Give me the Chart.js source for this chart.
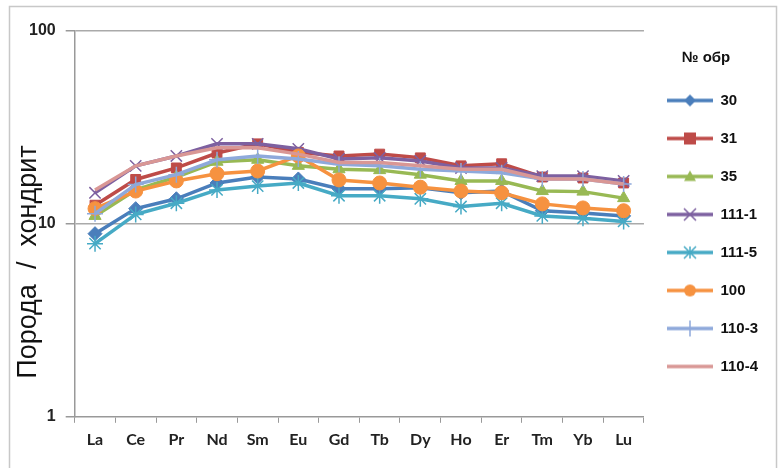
<!DOCTYPE html>
<html>
<head>
<meta charset="utf-8">
<script src="https://cdn.jsdelivr.net/npm/chart.js@4.4.1/dist/chart.umd.min.js"></script>
<style>
  html, body { margin: 0; padding: 0; background: #fff; }
  #wrap { width: 782px; height: 468px; position: relative; }
</style>
</head>
<body>
<div id="wrap"><canvas id="reeChart" width="782" height="468"></canvas></div>
<script>
// --- данные: нормированные на хондрит содержания РЗЭ ---
const elements = ['La', 'Ce', 'Pr', 'Nd', 'Sm', 'Eu', 'Gd', 'Tb', 'Dy', 'Ho', 'Er', 'Tm', 'Yb', 'Lu'];
const sampleNames = ['30', '31', '35', '111-1', '111-5', '100', '110-3', '110-4'];
const s30   = [8.9, 12.0, 13.5, 16.3, 17.5, 17.1, 15.2, 15.2, 15.4, 14.5, 14.8, 11.7, 11.4, 11.0];
const s31   = [12.5, 17.0, 19.5, 23.3, 26.0, 23.5, 22.5, 23.0, 22.0, 20.0, 20.5, 17.5, 17.3, 16.3];
const s35   = [11.0, 15.0, 17.5, 21.0, 21.5, 20.0, 19.2, 19.0, 18.0, 16.7, 16.7, 14.8, 14.7, 13.6];
const s1111 = [14.5, 20.0, 22.5, 26.0, 26.0, 24.5, 21.7, 22.0, 21.2, 19.5, 19.5, 17.7, 17.7, 16.7];
const s1115 = [7.9, 11.2, 12.8, 15.0, 15.7, 16.3, 14.0, 14.0, 13.5, 12.3, 12.8, 11.0, 10.7, 10.3];
const s100  = [12.0, 14.8, 16.7, 18.2, 18.8, 22.5, 16.9, 16.3, 15.5, 14.8, 14.5, 12.7, 12.1, 11.7];
const s1103 = [11.3, 16.0, 18.0, 21.5, 22.5, 21.7, 20.4, 20.0, 19.2, 18.8, 18.4, 17.1, 17.1, 16.1];
const s1104 = [15.0, 20.0, 22.5, 24.8, 24.8, 23.0, 20.8, 20.8, 20.0, 19.2, 19.2, 17.1, 17.1, 16.1];
const yTicks = [1, 10, 100];

const seriesValues = [s30, s31, s35, s1111, s1115, s100, s1103, s1104];
const colors = ['#4A7EBB', '#BE4B48', '#98B954', '#7D60A0', '#46AAC5', '#F69240', '#8EA9DB', '#D99795'];
const markers = ['rectRot', 'rect', 'triangle', 'crossRot', 'star', 'circle', 'cross', false];
const radii = [7, 7, 7, 8, 8, 7, 8, 0];

// картинка для легенды: линия + маркер (как в Excel)
function legendImage(color, style) {
    const c = document.createElement('canvas');
    c.width = 46; c.height = 20;
    const ctx = c.getContext('2d');
    const cx = 23, cy = 10, r = 6;
    ctx.strokeStyle = color; ctx.fillStyle = color; ctx.lineWidth = 3.5;
    ctx.beginPath(); ctx.moveTo(0, cy); ctx.lineTo(46, cy); ctx.stroke();
    ctx.lineWidth = 1.5;
    ctx.beginPath();
    if (style === 'rectRot') {
        ctx.moveTo(cx, cy - r); ctx.lineTo(cx + r, cy); ctx.lineTo(cx, cy + r); ctx.lineTo(cx - r, cy); ctx.closePath(); ctx.fill();
    } else if (style === 'rect') {
        ctx.fillRect(cx - r, cy - r, 2 * r, 2 * r);
    } else if (style === 'triangle') {
        ctx.moveTo(cx, cy - r); ctx.lineTo(cx + r, cy + r * 0.75); ctx.lineTo(cx - r, cy + r * 0.75); ctx.closePath(); ctx.fill();
    } else if (style === 'circle') {
        ctx.arc(cx, cy, r, 0, Math.PI * 2); ctx.fill();
    } else if (style === 'crossRot') {
        ctx.moveTo(cx - r, cy - r); ctx.lineTo(cx + r, cy + r); ctx.moveTo(cx - r, cy + r); ctx.lineTo(cx + r, cy - r); ctx.stroke();
    } else if (style === 'star') {
        ctx.moveTo(cx - r, cy - r); ctx.lineTo(cx + r, cy + r); ctx.moveTo(cx - r, cy + r); ctx.lineTo(cx + r, cy - r);
        ctx.moveTo(cx, cy - r); ctx.lineTo(cx, cy + r); ctx.stroke();
    } else if (style === 'cross') {
        ctx.moveTo(cx, cy - r - 2); ctx.lineTo(cx, cy + r + 2); ctx.stroke();
    }
    return c;
}

const datasets = seriesValues.map((vals, i) => ({
    label: sampleNames[i],
    data: vals,
    borderColor: colors[i],
    backgroundColor: colors[i],
    borderWidth: 3.5,
    pointStyle: markers[i] || 'circle',
    pointRadius: radii[i],
    pointHoverRadius: radii[i],
    pointBorderWidth: (markers[i] === 'crossRot' || markers[i] === 'star' || markers[i] === 'cross') ? 1.5 : 1,
    tension: 0,
    order: sampleNames.length - i
}));

// рамка и подпись оси Y
const decorPlugin = {
    id: 'decor',
    beforeDraw(chart) {
        const ctx = chart.ctx;
        ctx.save();
        ctx.fillStyle = '#fff';
        ctx.fillRect(0, 0, chart.width, chart.height);
        ctx.strokeStyle = '#c8c8c8'; ctx.lineWidth = 1.5;
        ctx.strokeRect(9.5, 6.5, 767, 470);
        ctx.restore();
    },
    afterDraw(chart) {
        const ctx = chart.ctx;
        ctx.save();
        ctx.translate(29, 262);
        ctx.rotate(-Math.PI / 2);
        ctx.font = '27px "Liberation Sans", Arial, sans-serif';
        ctx.fillStyle = '#111';
        ctx.textAlign = 'center'; ctx.textBaseline = 'middle';
        ctx.fillText('Порода  /  хондрит', 0, 0);
        ctx.restore();
    }
};

new Chart(document.getElementById('reeChart'), {
    type: 'line',
    data: { labels: elements, datasets: datasets },
    plugins: [decorPlugin],
    options: {
        responsive: false,
        animation: false,
        layout: { padding: { left: 19, top: 31, right: 14, bottom: 12 } },
        plugins: {
            tooltip: { enabled: false },
            legend: {
                position: 'right',
                align: 'start',
                title: {
                    display: true,
                    text: '№ обр',
                    color: '#111',
                    font: { family: '"Liberation Sans", Arial, sans-serif', size: 15, weight: 'bold' },
                    padding: { top: 19, bottom: 2 }
                },
                labels: {
                    usePointStyle: true,
                    pointStyleWidth: 46,
                    padding: 23,
                    color: '#111',
                    font: { family: '"Liberation Sans", Arial, sans-serif', size: 15, weight: 'bold' },
                    generateLabels(chart) {
                        return chart.data.datasets.map((ds, i) => ({
                            text: ds.label,
                            pointStyle: legendImage(colors[i], markers[i]),
                            fillStyle: colors[i],
                            strokeStyle: colors[i],
                            lineWidth: 0,
                            hidden: false,
                            datasetIndex: i
                        }));
                    }
                }
            }
        },
        scales: {
            x: {
                type: 'category',
                offset: true,
                grid: { display: true, offset: true, drawOnChartArea: false, tickLength: 6, color: '#999' },
                border: { color: '#999', width: 1.5 },
                ticks: {
                    color: '#222', padding: 7,
                    font: { family: 'Lato, "Open Sans", sans-serif', size: 16, weight: 'bold' }
                }
            },
            y: {
                type: 'logarithmic',
                min: 1, max: 100,
                afterBuildTicks(scale) { scale.ticks = yTicks.map(v => ({ value: v })); },
                grid: {
                    color: (c) => (c.tick && c.tick.value === 1) ? 'rgba(0,0,0,0)' : '#aaa',
                    tickColor: '#999',
                    tickLength: 9,
                    lineWidth: 1.5
                },
                border: { color: '#999', width: 1.5 },
                ticks: {
                    color: '#222', padding: 10,
                    font: { family: '"Liberation Sans", Arial, sans-serif', size: 16, weight: 'bold' },
                    callback: (v) => String(v)
                }
            }
        }
    }
});
</script>
</body>
</html>
